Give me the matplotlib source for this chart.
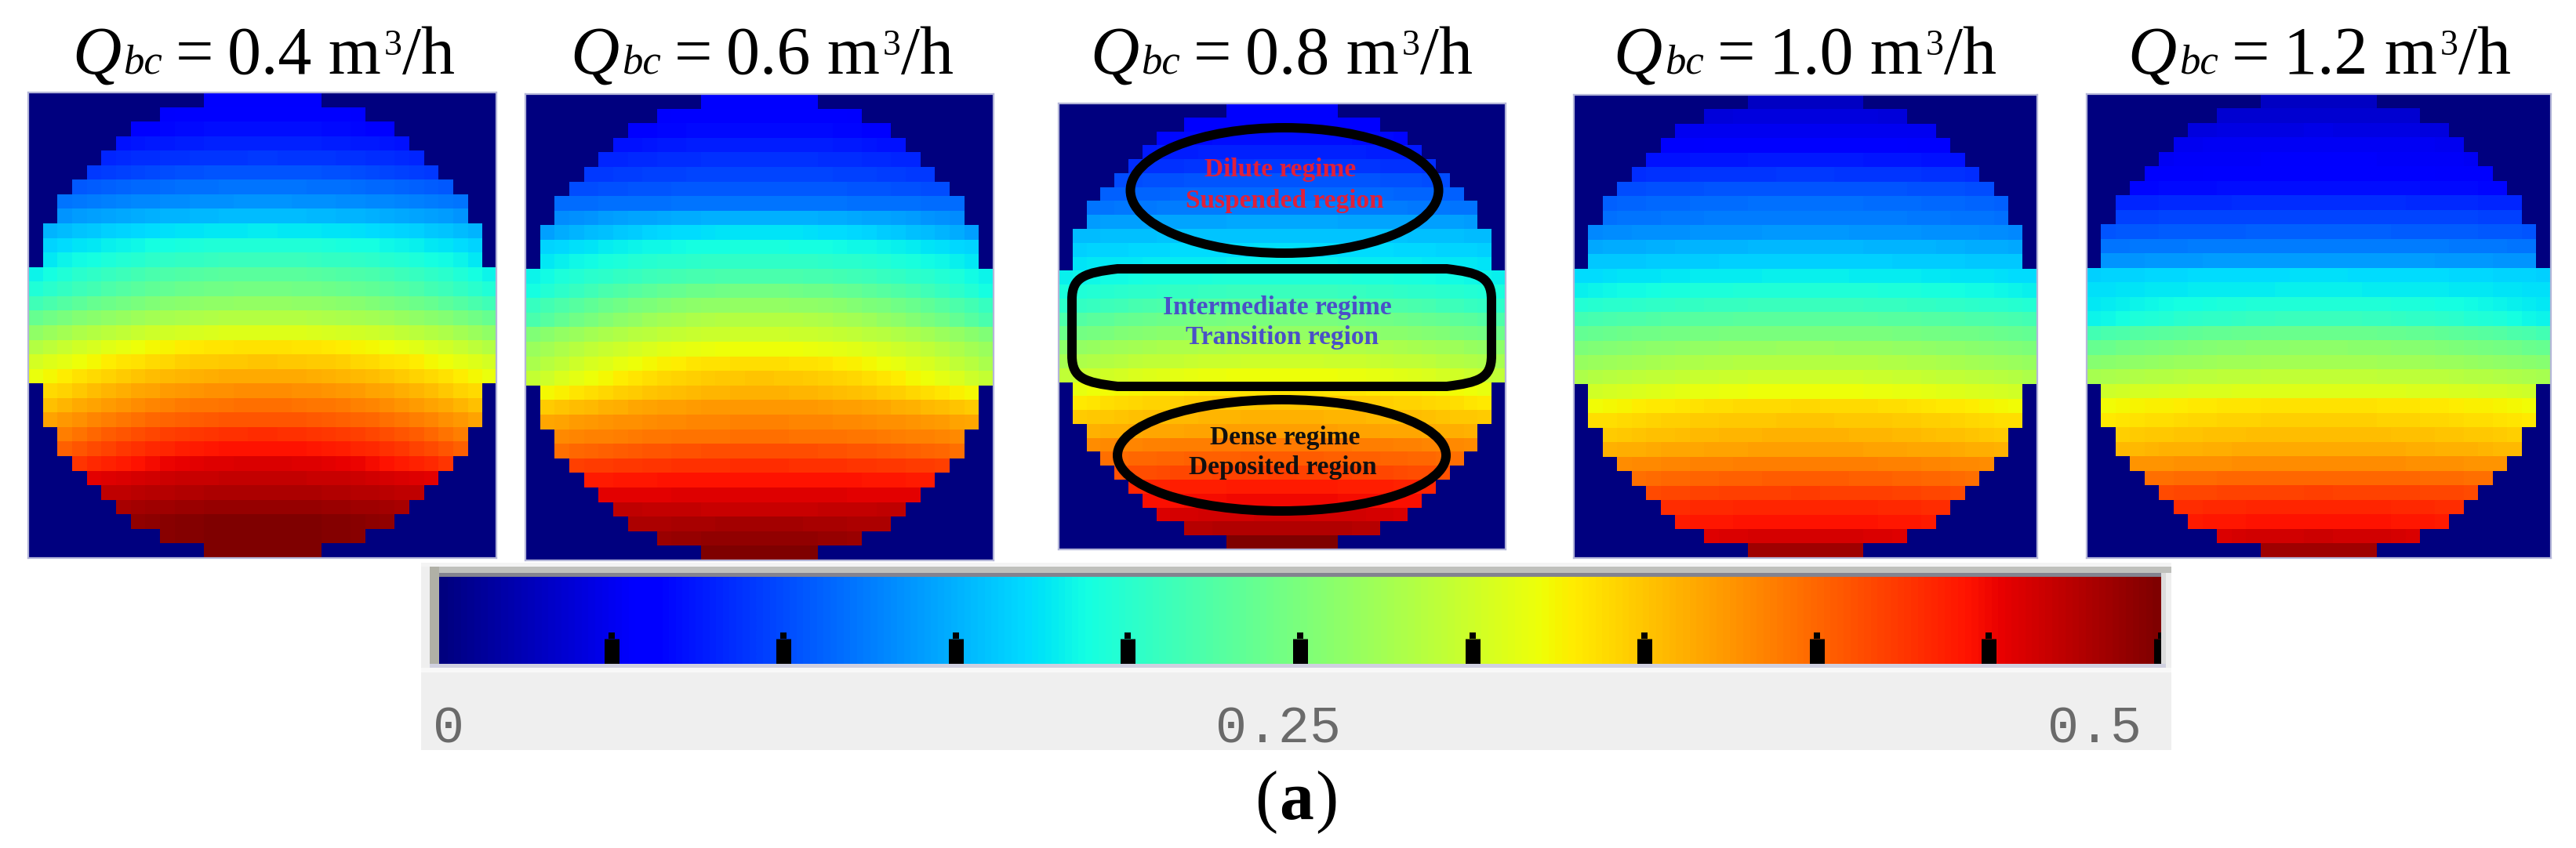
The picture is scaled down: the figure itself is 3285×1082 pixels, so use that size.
import numpy as np
import matplotlib
matplotlib.use('Agg')
import matplotlib.pyplot as plt
from matplotlib.patches import Ellipse, Rectangle, PathPatch
from matplotlib.path import Path

W, H = 3285, 1082
flow_rates = ['0.4', '0.6', '0.8', '1.0', '1.2']
vmin, vmax = 0.0, 0.5
bar_ticks = [0.05, 0.10, 0.15, 0.20, 0.25, 0.30, 0.35, 0.40, 0.45, 0.50]
bar_labels = ['0', '0.25', '0.5']

# half-width of the pipe section per row, in cells
chord_half = [4, 7, 9, 10, 11, 12, 13, 14, 14, 15, 15, 15, 16, 16, 16, 16,
              16, 16, 16, 16, 15, 15, 15, 14, 14, 13, 12, 11, 10, 9, 7, 4]

center_04 = [.055, .06, .07, .08, .09, .105, .12, .135, .155, .178, .195, .21, .23, .245, .265, .285,
             .31, .335, .35, .365, .38, .395, .41, .43, .445, .46, .47, .48, .49, .50, .50, .50]
edge_04 = [.055, .056, .062, .07, .08, .09, .105, .12, .135, .15, .165, .175, .18, .19, .21, .235,
           .26, .28, .30, .315, .335, .35, .365, .385, .40, .425, .455, .47, .48, .49, .495, .50]
center_06 = [.055, .06, .068, .078, .087, .097, .107, .12, .15, .175, .19, .205, .22, .245, .265, .285,
             .30, .32, .337, .35, .36, .375, .385, .395, .414, .43, .445, .458, .468, .483, .492, .50]
edge_06 = [.055, .055, .062, .07, .08, .09, .10, .115, .13, .14, .165, .175, .18, .185, .205, .215,
           .25, .265, .275, .29, .32, .345, .365, .38, .395, .42, .44, .455, .472, .478, .486, .50]
center_08 = [.055, .06, .07, .08, .09, .105, .115, .125, .145, .16, .172, .18, .195, .21, .23, .25,
             .265, .285, .30, .32, .335, .35, .36, .37, .39, .405, .42, .44, .45, .465, .478, .50]
edge_08 = [.055, .058, .065, .075, .085, .10, .11, .12, .14, .155, .165, .175, .18, .19, .20, .22,
           .24, .26, .275, .29, .315, .33, .345, .36, .38, .395, .41, .435, .445, .46, .475, .50]
center_10 = [.03, .042, .05, .058, .075, .09, .105, .118, .125, .137, .153, .165, .18, .195, .21, .23,
             .25, .268, .285, .30, .32, .34, .35, .36, .37, .388, .405, .422, .435, .445, .462, .486]
edge_10 = [.03, .04, .05, .055, .07, .085, .10, .11, .118, .13, .145, .16, .17, .18, .195, .215,
           .235, .25, .265, .28, .30, .32, .335, .345, .36, .38, .395, .415, .43, .44, .458, .486]
center_12 = [.03, .037, .045, .052, .055, .058, .07, .085, .097, .11, .125, .14, .172, .18, .195, .21,
             .24, .26, .275, .292, .31, .335, .345, .355, .365, .38, .40, .42, .435, .445, .465, .486]
edge_12 = [.03, .035, .042, .05, .052, .055, .065, .08, .095, .105, .12, .135, .165, .172, .175, .18,
           .215, .235, .255, .275, .30, .32, .33, .345, .355, .375, .395, .415, .43, .44, .46, .486]
centers = [center_04, center_06, center_08, center_10, center_12]
edges = [edge_04, edge_06, edge_08, edge_10, edge_12]

# panel frames in reference pixels: left, right, top, bottom
frames = [(36, 633, 118, 712), (670, 1267, 120, 715), (1350, 1920, 132, 701),
          (2007, 2598, 121, 712), (2661, 3253, 120, 712)]
title_centers = [336, 972, 1634, 2302, 2958]

plt.rcParams['font.family'] = ['Liberation Serif', 'DejaVu Serif']
fig = plt.figure(figsize=(W / 100, H / 100), dpi=100, facecolor='white')


def add_px_axes(l, r, t, b, **kw):
    return fig.add_axes([l / W, 1 - b / H, (r - l) / W, (b - t) / H], **kw)


def full_overlay(z):
    a = fig.add_axes([0, 0, 1, 1], zorder=z, facecolor='none')
    a.set_xlim(0, W)
    a.set_ylim(H, 0)
    a.axis('off')
    return a


under = full_overlay(0)
over = full_overlay(10)


def field(center, edge):
    grid = np.zeros((32, 32))
    for r, hw in enumerate(chord_half):
        for c in range(32):
            off = abs(c + 0.5 - 16)
            if off < hw:
                grid[r, c] = center[r] + (edge[r] - center[r]) * (off / hw) ** 2
    return grid


for fr, cen, edg in zip(frames, centers, edges):
    ax = add_px_axes(fr[0], fr[1], fr[2], fr[3], zorder=2)
    ax.imshow(field(cen, edg), cmap='jet', vmin=vmin, vmax=vmax, aspect='auto', interpolation='nearest')
    ax.set_xticks([])
    ax.set_yticks([])
    for s in ax.spines.values():
        s.set_color('#b4b6d8')
        s.set_linewidth(1.6)


# ---- run-based text, keeps the baseline-level subscript of the original
def runs(a, cx, baseline, items):
    r = fig.canvas.get_renderer()
    arts, x = [], 0.0
    for s, size, style, weight, rise, gap in items:
        t = a.text(x, baseline - rise, s, fontsize=size, style=style, weight=weight,
                   ha='left', va='baseline', color='black')
        w = t.get_window_extent(r).width
        arts.append((t, x))
        x += w + gap
    total = x - items[-1][5]
    for t, x0 in arts:
        t.set_x(cx - total / 2 + x0)


for label, cx in zip(flow_rates, title_centers):
    runs(over, cx, 94, [
        ('Q', 62, 'italic', 'normal', 0, 3),
        ('bc', 38, 'italic', 'normal', 0, 17),
        ('=', 62, 'normal', 'normal', 0, 18),
        (label + ' m', 62, 'normal', 'normal', 0, 3),
        ('3', 33, 'normal', 'normal', 24, 1),
        ('/h', 62, 'normal', 'normal', 0, 0),
    ])
runs(over, 1653, 1045, [('(', 63, 'normal', 'normal', 0, 2),
                        ('a', 63, 'normal', 'bold', 0, 2),
                        (')', 63, 'normal', 'normal', 0, 0)])

# ---- regime annotations on the middle panel
stroke = 12 * 0.72
over.add_patch(Ellipse((1638, 243), 393, 160, fill=False, ec='black', lw=stroke))
over.add_patch(Ellipse((1634.5, 581), 419, 142, fill=False, ec='black', lw=stroke))
verts = [(1425, 343), (1845, 343), (1885, 348), (1902, 353), (1902, 382), (1902, 454),
         (1902, 483), (1885, 488), (1845, 493), (1425, 493), (1384, 488), (1367, 483),
         (1367, 454), (1367, 382), (1367, 353), (1384, 348), (1425, 343), (1425, 343)]
codes = [Path.MOVETO, Path.LINETO, Path.CURVE4, Path.CURVE4, Path.CURVE4, Path.LINETO,
         Path.CURVE4, Path.CURVE4, Path.CURVE4, Path.LINETO, Path.CURVE4, Path.CURVE4,
         Path.CURVE4, Path.LINETO, Path.CURVE4, Path.CURVE4, Path.CURVE4, Path.CLOSEPOLY]
over.add_patch(PathPatch(Path(verts, codes), fill=False, ec='black', lw=stroke))

notes = [('Dilute regime', 1633, 216, '#e0203a'), ('Suspended region', 1638, 256, '#e0203a'),
         ('Intermediate regime', 1629, 393, '#4a50c8'), ('Transition region', 1635, 431, '#4a50c8'),
         ('Dense regime', 1639, 558, '#101010'), ('Deposited region', 1636, 596, '#101010')]
for s, x, y, col in notes:
    over.text(x, y, s, fontsize=24, weight='bold', color=col, ha='center', va='center')

# ---- colour bar with its bevelled widget frame
under.add_patch(Rectangle((537, 718), 2769 - 537, 957 - 718, fc='#efefef', ec='none'))
under.add_patch(Rectangle((537, 718), 2769 - 537, 5, fc='#f4f4f4', ec='none'))
under.add_patch(Rectangle((548, 723), 2769 - 548, 8, fc='#bfc0bc', ec='none'))
under.add_patch(Rectangle((548, 731), 2762 - 548, 5, fc='#83838f', ec='none'))
under.add_patch(Rectangle((548, 723), 12, 128, fc='#b0b0a6', ec='none'))
under.add_patch(Rectangle((2756, 731), 6, 120, fc='#dcdcdc', ec='none'))
under.add_patch(Rectangle((548, 847), 2762 - 548, 5, fc='#d0d0e0', ec='none'))
under.add_patch(Rectangle((537, 852), 2769 - 537, 6, fc='#f8f8f8', ec='none'))

bar = add_px_axes(560, 2756, 736, 847, zorder=2)
bar.imshow(np.linspace(vmin, vmax, 512)[None, :], cmap='jet', vmin=vmin, vmax=vmax, aspect='auto',
           extent=(vmin, vmax, 0, 1), interpolation='bilinear')
bar.set_xlim(vmin, vmax)
bar.set_ylim(0, 1)
bar.axis('off')
bar.vlines(bar_ticks, 0, 0.29, color='black', lw=19 * 0.72, clip_on=True)
bar.vlines(bar_ticks, 0.29, 0.36, color='black', lw=8 * 0.72, clip_on=True)

for s, x in zip(bar_labels, (572, 1630, 2671)):
    over.text(x, 947, s, fontsize=48, family='Liberation Mono', color='#6a6a6a',
              ha='center', va='baseline')

fig.savefig('out.png', dpi=100, facecolor='white')
